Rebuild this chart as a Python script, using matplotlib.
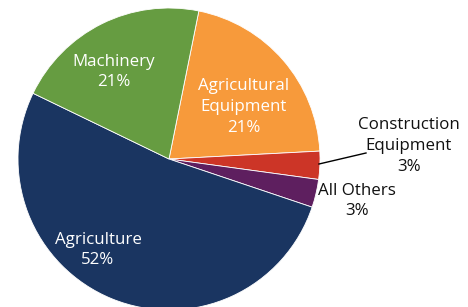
import matplotlib
matplotlib.use("Agg")
import matplotlib.pyplot as plt

categories = ["Agricultural\nEquipment", "Construction\nEquipment", "All Others", "Agriculture", "Machinery"]
values = [21, 3, 3, 52, 21]
colors = ["#F79A3B", "#CC3527", "#5E1F5F", "#1A3561", "#669C41"]

W, H = 468, 307
cx, cy, R = 169, 159, 151

fig = plt.figure(figsize=(W / 100, H / 100), dpi=100)
ax = fig.add_axes([0, 0, 1, 1])
ax.pie(values, colors=colors, startangle=78.6, counterclock=False,
       radius=1.0, center=(0, 0),
       wedgeprops=dict(linewidth=0.6, edgecolor="white"))
ax.set_xlim(-cx / R, (W - cx) / R)
ax.set_ylim(-(H - cy) / R, cy / R)
ax.set_aspect("auto")
ax.axis("off")

def P(px, py):
    return (px - cx) / R, (cy - py) / R

font = "Open Sans"
fs = 12.2
labels = [
    ("Machinery\n21%", 114, 72, "white"),
    ("Agricultural\nEquipment\n21%", 244, 107, "white"),
    ("Agriculture\n52%", 98, 250, "white"),
    ("Construction\nEquipment\n3%", 409, 146, "#111111"),
    ("All Others\n3%", 357, 201, "#111111"),
]
for txt, px, py, c in labels:
    x, y = P(px, py)
    ax.text(x, y, txt, ha="center", va="center", color=c, fontsize=fs,
            family=font, linespacing=1.38)

x0, y0 = P(319, 164)
x1, y1 = P(366, 153)
ax.plot([x0, x1], [y0, y1], color="black", lw=1.0)

fig.savefig("out.png", dpi=100)
